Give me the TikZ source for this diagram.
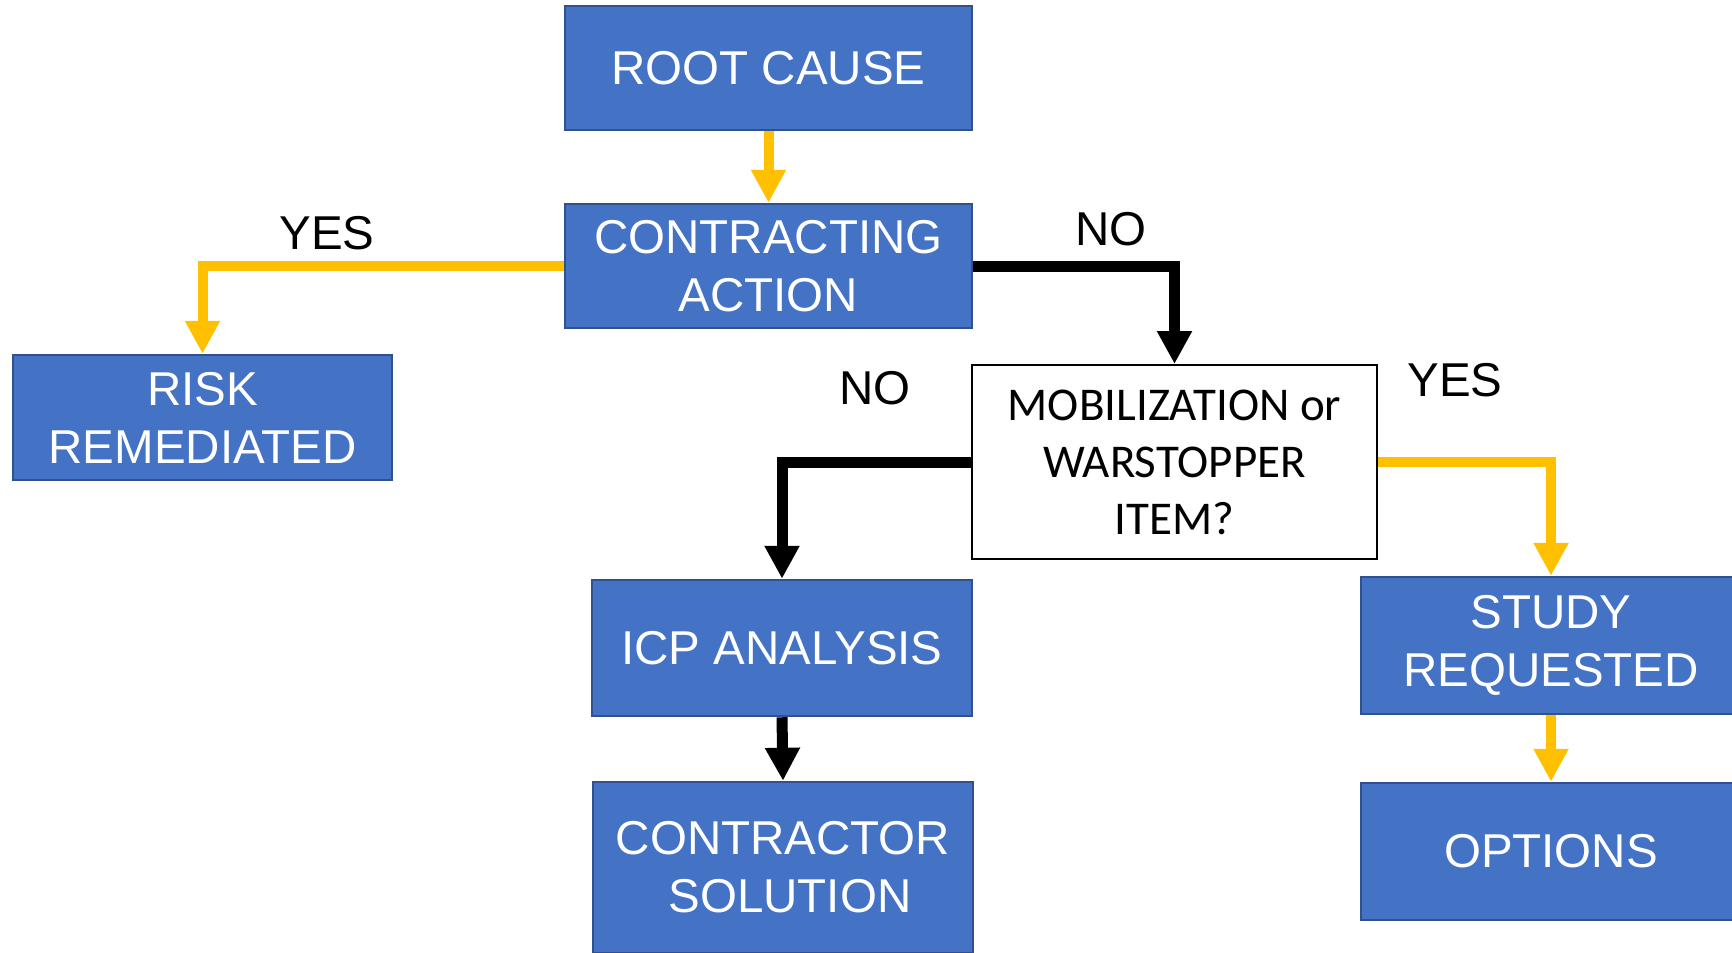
\documentclass[tikz,border=0pt]{standalone}
\usepackage{fontspec}
\setmainfont{Liberation Sans}
\newfontfamily\calfont{Carlito}
\usetikzlibrary{arrows.meta}
\definecolor{boxblue}{HTML}{4472C4}
\definecolor{boxedge}{HTML}{2F528F}
\definecolor{gold}{HTML}{FFC000}
\begin{document}
\begin{tikzpicture}[x=1pt,y=-1pt,
  bluebox/.style={draw=boxedge, line width=2.5pt, fill=boxblue, text=white,
    font=\fontsize{47.5}{58}\selectfont, align=center, inner sep=0pt},
  whitebox/.style={draw=black, line width=2pt, fill=white, text=black,
    font=\calfont\fontsize{47}{57}\selectfont, align=center, inner sep=0pt},
  lbl/.style={text=black, font=\fontsize{47.5}{58}\selectfont, inner sep=0pt},
  yarrow/.style={draw=gold, line width=10pt, -{Triangle[width=33pt,length=33pt]}},
  karrow/.style={draw=black, line width=11pt, -{Triangle[width=33pt,length=33pt]}}]
\useasboundingbox (0,0) rectangle (1732,953);
\clip (0,0) rectangle (1732,953);
\fill[white] (0,0) rectangle (1732,953);

\node[bluebox, minimum width=407pt, minimum height=124pt] (root) at (768.5,68) {ROOT CAUSE};
\node[bluebox, minimum width=407pt, minimum height=124pt] (contract) at (768.5,266) {CONTRACTING\\ACTION};
\node[bluebox, minimum width=379pt, minimum height=125pt] (risk) at (202.5,417.5) {RISK\\REMEDIATED};
\node[whitebox, minimum width=405pt, minimum height=194pt] (mob) at (1174.5,462) {MOBILIZATION or\\WARSTOPPER\\ITEM?};
\node[bluebox, minimum width=380pt, minimum height=136pt] (icp) at (782,648) {ICP ANALYSIS};
\node[bluebox, minimum width=380pt, minimum height=171pt] (csol) at (783,867.5) {CONTRACTOR\\\hspace*{14pt}SOLUTION};
\node[bluebox, minimum width=380pt, minimum height=137pt] (study) at (1551,645.5) {STUDY\\REQUESTED};
\node[bluebox, minimum width=380pt, minimum height=137pt] (options) at (1551,851.5) {OPTIONS};

\node[lbl] (yes1) at (327,233) {YES};
\node[lbl] (no1) at (1111,229) {NO};
\node[lbl] (no2) at (875,388) {NO};
\node[lbl] (yes2) at (1455,380) {YES};

\draw[yarrow] (root.south) -- (contract.north);
\draw[yarrow] (contract.west) -| (risk.north);
\draw[karrow] (contract.east) -| (mob.north);
\draw[karrow] (mob.west) -| (icp.north);
\draw[yarrow] (mob.east) -| (study.north);
\draw[karrow] (icp.south) -- (csol.north);
\draw[yarrow] (study.south) -- (options.north);
\end{tikzpicture}
\end{document}
